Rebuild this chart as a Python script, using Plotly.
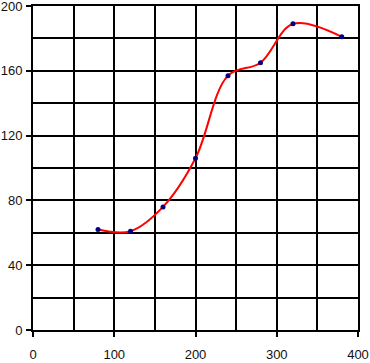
import plotly.graph_objects as go

x_vals = [80, 120, 160, 200, 240, 280, 320, 380]
y_vals = [62, 61, 76, 106, 157, 165, 189, 181]

fig = go.Figure()
fig.add_trace(go.Scatter(
    x=x_vals, y=y_vals, mode="lines+markers",
    line=dict(color="#FF0000", width=2, shape="spline", smoothing=1),
    marker=dict(color="#000080", size=5),
    showlegend=False,
))

axis_common = dict(
    showgrid=True, gridcolor="black", gridwidth=2,
    showline=True, linecolor="black", linewidth=2, mirror=True,
    ticks="outside", ticklen=5, tickwidth=2, tickcolor="black",
    zeroline=False, ticklabeloverflow="allow", automargin=False,
    tickfont=dict(family="Liberation Sans, Arial, sans-serif", size=13, color="#111"),
)

fig.update_xaxes(range=[0, 400], dtick=100, tick0=0, ticklabelstandoff=6,
                 minor=dict(dtick=50, showgrid=True, gridcolor="black", gridwidth=2),
                 **axis_common)
fig.update_yaxes(range=[0, 200], dtick=40, tick0=0, ticklabelstandoff=1,
                 minor=dict(dtick=20, showgrid=True, gridcolor="black", gridwidth=2),
                 **axis_common)

fig.update_layout(
    width=370, height=363,
    margin=dict(l=33, r=12, t=6, b=33),
    plot_bgcolor="white", paper_bgcolor="white",
)

fig.write_html("out.html")
